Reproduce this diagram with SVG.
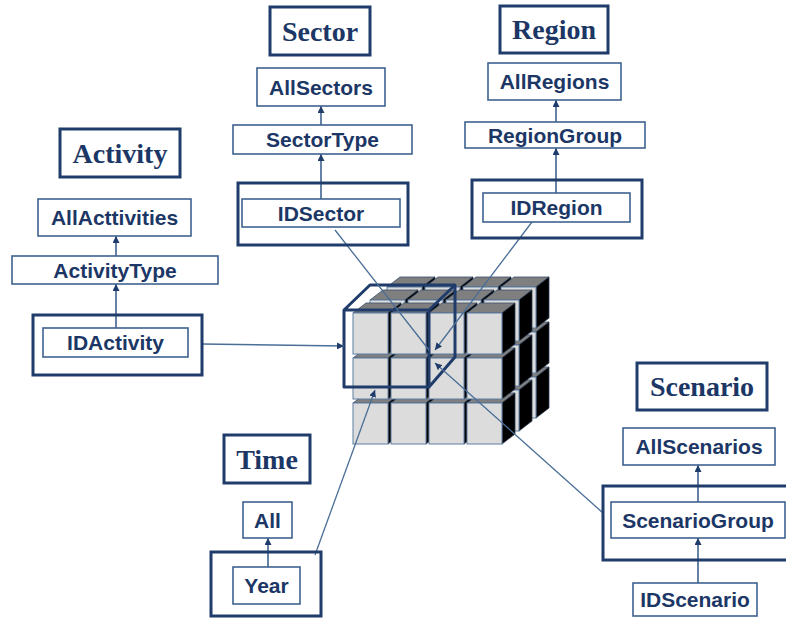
<svg xmlns="http://www.w3.org/2000/svg" xmlns:xlink="http://www.w3.org/1999/xlink" width="786" height="618" viewBox="0 0 786 618">
<style>
.title{font-family:"Liberation Serif","Times New Roman",serif;font-weight:bold;font-size:28px;fill:#1c3766;text-anchor:middle}
.lbl{font-family:"Liberation Sans",Arial,sans-serif;font-weight:bold;font-size:21px;fill:#1c3766;text-anchor:middle}
.thin{fill:#fff;stroke:#3f6290;stroke-width:1.6}
.thick{fill:none;stroke:#1f3c6b;stroke-width:3}
.thickw{fill:#fff;stroke:#1f3c6b;stroke-width:3}
.link{fill:none;stroke:#3f6290;stroke-width:1.6}
.conn{fill:none;stroke:#4a6e96;stroke-width:1.3}
.top{fill:#7f7f7f;stroke:#3a4f6a;stroke-width:0.8}
.side{fill:#000;stroke:#2a3a50;stroke-width:0.8}
.front{fill:#dcdcdc;stroke:#5f7fa3;stroke-width:1}
.wire{fill:none;stroke:#1f3c6b;stroke-width:3;stroke-linejoin:round}
</style>
<defs>
<marker id="ah" markerWidth="7" markerHeight="7" refX="7" refY="3.5" orient="auto" markerUnits="userSpaceOnUse">
<path d="M0,0 L7,3.5 L0,7 z" fill="#1f3c6b"/>
</marker>
<g id="cb">
<polygon class="top" points="0,0 13,-10 48,-10 35,0"/>
<polygon class="side" points="35,0 48,-10 48,31 35,41"/>
<rect class="front" x="0" y="0" width="35" height="41"/>
</g>
</defs>

<g id="cube">
<use xlink:href="#cb" x="387" y="377"/><use xlink:href="#cb" x="425" y="377"/><use xlink:href="#cb" x="463" y="377"/><use xlink:href="#cb" x="501" y="377"/>
<use xlink:href="#cb" x="387" y="332"/><use xlink:href="#cb" x="425" y="332"/><use xlink:href="#cb" x="463" y="332"/><use xlink:href="#cb" x="501" y="332"/>
<use xlink:href="#cb" x="387" y="287"/><use xlink:href="#cb" x="425" y="287"/><use xlink:href="#cb" x="463" y="287"/><use xlink:href="#cb" x="501" y="287"/>
<use xlink:href="#cb" x="370" y="390"/><use xlink:href="#cb" x="408" y="390"/><use xlink:href="#cb" x="446" y="390"/><use xlink:href="#cb" x="484" y="390"/>
<use xlink:href="#cb" x="370" y="345"/><use xlink:href="#cb" x="408" y="345"/><use xlink:href="#cb" x="446" y="345"/><use xlink:href="#cb" x="484" y="345"/>
<use xlink:href="#cb" x="370" y="300"/><use xlink:href="#cb" x="408" y="300"/><use xlink:href="#cb" x="446" y="300"/><use xlink:href="#cb" x="484" y="300"/>
<use xlink:href="#cb" x="353" y="403"/><use xlink:href="#cb" x="391" y="403"/><use xlink:href="#cb" x="429" y="403"/><use xlink:href="#cb" x="467" y="403"/>
<use xlink:href="#cb" x="353" y="358"/><use xlink:href="#cb" x="391" y="358"/><use xlink:href="#cb" x="429" y="358"/><use xlink:href="#cb" x="467" y="358"/>
<use xlink:href="#cb" x="353" y="313"/><use xlink:href="#cb" x="391" y="313"/><use xlink:href="#cb" x="429" y="313"/><use xlink:href="#cb" x="467" y="313"/>
<path class="wire" d="M344,310 L429,310 L429,387 L344,387 Z M344,310 L370,285 L455,285 L429,310 M455,285 L455,357 L429,387"/>
</g>

<g id="connectors">
<line class="conn" x1="202" y1="344" x2="344" y2="346" marker-end="url(#ah)"/>
<line class="conn" x1="335" y1="230" x2="429" y2="350"/>
<line class="conn" x1="535" y1="218" x2="435" y2="350" marker-end="url(#ah)"/>
<line class="conn" x1="603" y1="513" x2="435" y2="363" marker-end="url(#ah)"/>
<line class="conn" x1="315" y1="555" x2="375" y2="390" marker-end="url(#ah)"/>
<line class="link" x1="116" y1="328" x2="116" y2="284" marker-end="url(#ah)"/>
<line class="link" x1="116" y1="256" x2="116" y2="236" marker-end="url(#ah)"/>
<line class="link" x1="321" y1="199" x2="321" y2="154" marker-end="url(#ah)"/>
<line class="link" x1="321" y1="125" x2="321" y2="106" marker-end="url(#ah)"/>
<line class="link" x1="556" y1="193" x2="556" y2="148" marker-end="url(#ah)"/>
<line class="link" x1="556" y1="122" x2="556" y2="100" marker-end="url(#ah)"/>
<line class="link" x1="698" y1="583" x2="698" y2="538" marker-end="url(#ah)"/>
<line class="link" x1="698" y1="502" x2="698" y2="465" marker-end="url(#ah)"/>
<line class="link" x1="268" y1="567" x2="268" y2="538" marker-end="url(#ah)"/>
</g>

<g id="activity">
<g id="activity-title"><rect class="thickw" x="60" y="129" width="120" height="48"/><text class="title" x="120" y="163">Activity</text></g>
<g id="allactivities"><rect class="thin" x="38" y="199" width="153" height="37"/><text class="lbl" x="114.5" y="225">AllActtivities</text></g>
<g id="activitytype"><rect class="thin" x="12" y="256" width="206" height="28"/><text class="lbl" x="115" y="277.5">ActivityType</text></g>
<g id="idactivity"><rect class="thick" x="33" y="315" width="169" height="60"/><rect class="thin" x="43" y="328" width="145" height="29"/><text class="lbl" x="115.5" y="350">IDActivity</text></g>
</g>

<g id="sector">
<g id="sector-title"><rect class="thickw" x="270" y="7" width="100" height="48"/><text class="title" x="320" y="41">Sector</text></g>
<g id="allsectors"><rect class="thin" x="257" y="68" width="128" height="38"/><text class="lbl" x="321" y="94.5">AllSectors</text></g>
<g id="sectortype"><rect class="thin" x="233" y="125" width="179" height="29"/><text class="lbl" x="322.5" y="147">SectorType</text></g>
<g id="idsector"><rect class="thick" x="238" y="183" width="170" height="62"/><rect class="thin" x="242" y="199" width="158" height="28"/><text class="lbl" x="321" y="220.5">IDSector</text></g>
</g>

<g id="region">
<g id="region-title"><rect class="thickw" x="500" y="6" width="108" height="47"/><text class="title" x="554" y="39">Region</text></g>
<g id="allregions"><rect class="thin" x="488" y="63" width="133" height="37"/><text class="lbl" x="554.5" y="89">AllRegions</text></g>
<g id="regiongroup"><rect class="thin" x="465" y="122" width="180" height="26"/><text class="lbl" x="555" y="142.5">RegionGroup</text></g>
<g id="idregion"><rect class="thick" x="472" y="180" width="170" height="58"/><rect class="thin" x="483" y="193" width="147" height="29"/><text class="lbl" x="556.5" y="215">IDRegion</text></g>
</g>

<g id="scenario">
<g id="scenario-title"><rect class="thickw" x="637" y="363" width="130" height="47"/><text class="title" x="702" y="396">Scenario</text></g>
<g id="allscenarios"><rect class="thin" x="623" y="428" width="152" height="37"/><text class="lbl" x="699" y="454">AllScenarios</text></g>
<g id="scenariogroup"><rect class="thick" x="603" y="486" width="200" height="74"/><rect class="thin" x="611" y="502" width="174" height="36"/><text class="lbl" x="698" y="527.5">ScenarioGroup</text></g>
<g id="idscenario"><rect class="thin" x="633" y="583" width="124" height="33"/><text class="lbl" x="695" y="607">IDScenario</text></g>
</g>

<g id="time">
<g id="time-title"><rect class="thickw" x="224" y="435" width="86" height="48"/><text class="title" x="267" y="469">Time</text></g>
<g id="all"><rect class="thin" x="243" y="502" width="49" height="36"/><text class="lbl" x="267.5" y="527.5">All</text></g>
<g id="year"><rect class="thick" x="211" y="552" width="110" height="64"/><rect class="thin" x="233" y="567" width="67" height="37"/><text class="lbl" x="266.5" y="593">Year</text></g>
</g>
</svg>
